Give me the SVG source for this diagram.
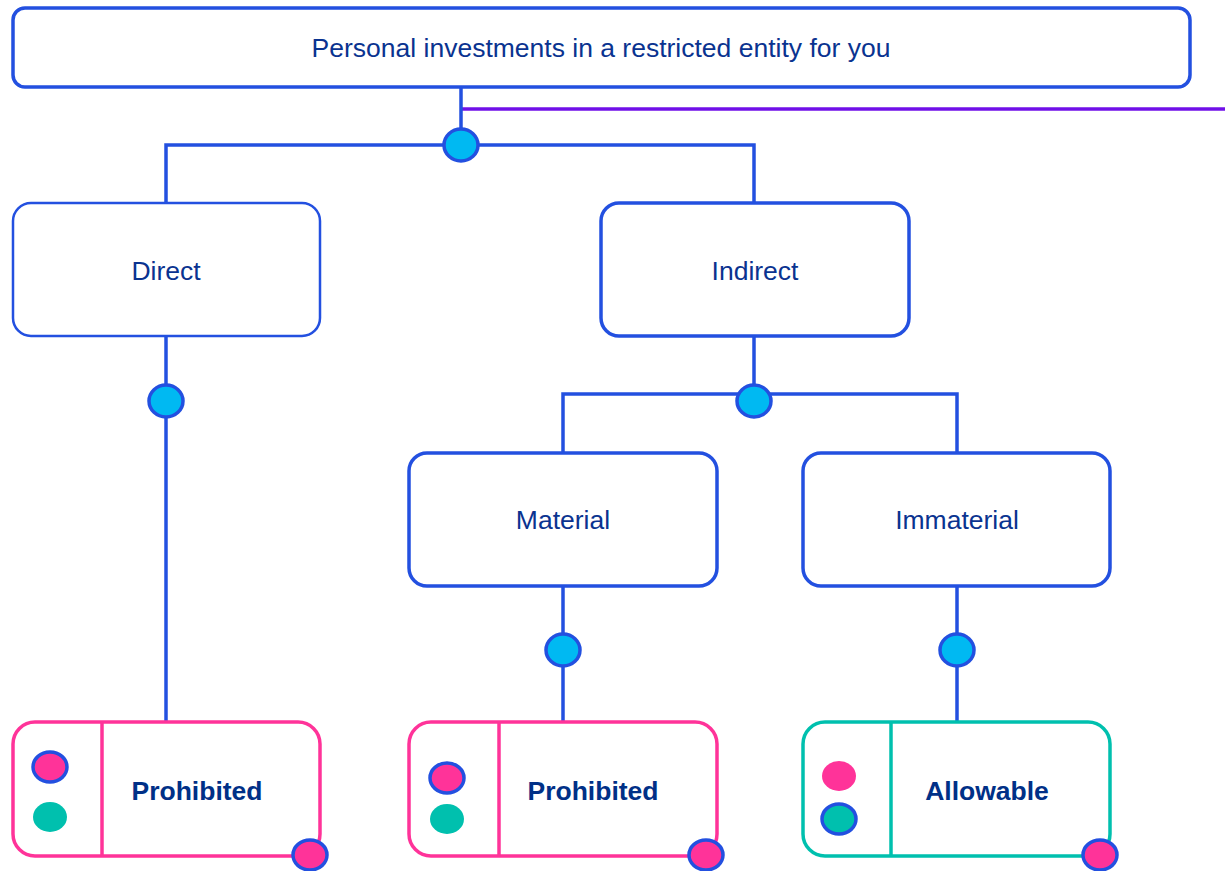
<svg xmlns="http://www.w3.org/2000/svg" width="1225" height="871" viewBox="0 0 1225 871">
<style>
.box{fill:#fff;stroke:#2350E0;stroke-width:3.5}
.thin{stroke-width:2.5}
.pk{fill:#fff;stroke:#FF3399;stroke-width:3.5}
.tl{fill:#fff;stroke:#00C0AE;stroke-width:3.5}
.ln{fill:none;stroke:#2350E0;stroke-width:3.5}
.dot{fill:#00B9F2;stroke:#2350E0;stroke-width:3.5}
.pdot{fill:#FF3399}
.tdot{fill:#00C0AE}
.bs{stroke:#2350E0;stroke-width:3.5}
.t{font-family:"Liberation Sans",Arial,sans-serif;font-size:26.5px;fill:#0A3390;text-anchor:middle;dominant-baseline:central}
.b{font-weight:bold;fill:#003087}
</style>
<g id="connectors">
<line x1="461" y1="109" x2="1225" y2="109" stroke="#7010E8" stroke-width="3.5"/>
<path class="ln" d="M461 87V145M166 203V145H754V203"/>
<path class="ln" d="M166 336V722"/>
<path class="ln" d="M754 336V401M563 453V394H957V453"/>
<path class="ln" d="M563 586V722M957 586V722"/>
<ellipse class="dot" cx="461" cy="145" rx="17" ry="16"/>
<ellipse class="dot" cx="166" cy="401" rx="17" ry="16"/>
<ellipse class="dot" cx="754" cy="401" rx="17" ry="16"/>
<ellipse class="dot" cx="563" cy="650" rx="17" ry="16"/>
<ellipse class="dot" cx="957" cy="650" rx="17" ry="16"/>
</g>
<g id="root">
<rect class="box" x="13" y="8" width="1177" height="79" rx="12"/>
<text class="t" x="601" y="48">Personal investments in a restricted entity for you</text>
</g>
<g id="direct">
<rect class="box thin" x="13" y="203" width="307" height="133" rx="18"/>
<text class="t" x="166" y="271">Direct</text>
</g>
<g id="indirect">
<rect class="box" x="601" y="203" width="308" height="133" rx="18"/>
<text class="t" x="755" y="271">Indirect</text>
</g>
<g id="material">
<rect class="box" x="409" y="453" width="308" height="133" rx="18"/>
<text class="t" x="563" y="520">Material</text>
</g>
<g id="immaterial">
<rect class="box" x="803" y="453" width="307" height="133" rx="18"/>
<text class="t" x="957" y="520">Immaterial</text>
</g>
<g id="result-direct">
<rect class="pk" x="13" y="722" width="307" height="134" rx="22"/>
<line x1="102" y1="722" x2="102" y2="856" stroke="#FF3399" stroke-width="3.5"/>
<ellipse class="pdot bs" cx="50" cy="767" rx="17" ry="15"/>
<ellipse class="tdot" cx="50" cy="817" rx="17" ry="15"/>
<text class="t b" x="197" y="791">Prohibited</text>
<ellipse class="pdot bs" cx="310" cy="855" rx="17" ry="15"/>
</g>
<g id="result-material">
<rect class="pk" x="409" y="722" width="308" height="134" rx="22"/>
<line x1="499" y1="722" x2="499" y2="856" stroke="#FF3399" stroke-width="3.5"/>
<ellipse class="pdot bs" cx="447" cy="778" rx="17" ry="15"/>
<ellipse class="tdot" cx="447" cy="819" rx="17" ry="15"/>
<text class="t b" x="593" y="791">Prohibited</text>
<ellipse class="pdot bs" cx="706" cy="855" rx="17" ry="15"/>
</g>
<g id="result-immaterial">
<rect class="tl" x="803" y="722" width="307" height="134" rx="22"/>
<line x1="891" y1="722" x2="891" y2="856" stroke="#00C0AE" stroke-width="3.5"/>
<ellipse class="pdot" cx="839" cy="776" rx="17" ry="15"/>
<ellipse class="tdot bs" cx="839" cy="819" rx="17" ry="15"/>
<text class="t b" x="987" y="791">Allowable</text>
<ellipse class="pdot bs" cx="1100" cy="855" rx="17" ry="15"/>
</g>
</svg>
